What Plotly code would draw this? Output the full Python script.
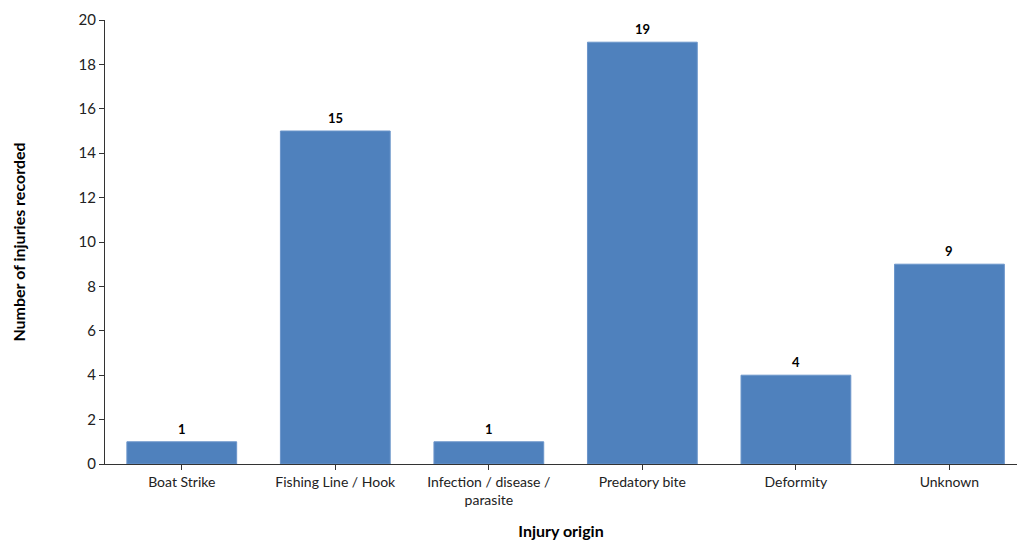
import plotly.graph_objects as go

categories = ["Boat Strike", "Fishing Line / Hook", "Infection / disease /<br>parasite",
              "Predatory bite", "Deformity", "Unknown"]
injuries = [1, 15, 1, 19, 4, 9]
y_ticks = [0, 2, 4, 6, 8, 10, 12, 14, 16, 18, 20]

positions = list(range(len(categories)))

fig = go.Figure(
    go.Bar(
        x=positions,
        y=injuries,
        width=0.715,
        marker=dict(color="#4F81BD", line=dict(color="#6B95CA", width=1)),
        hoverinfo="x+y",
    )
)

# value labels above each bar
for xpos, val in zip(positions, injuries):
    fig.add_annotation(
        x=xpos, y=val, text=f"<b>{val}</b>", showarrow=False,
        yanchor="bottom", yshift=3,
        font=dict(family="Lato", size=13, color="#000000"),
    )

fig.update_layout(
    width=1017,
    height=542,
    margin=dict(l=105, r=0, t=20, b=78),
    plot_bgcolor="white",
    paper_bgcolor="white",
    showlegend=False,
    font=dict(family="Lato", size=14, color="#222222"),
    xaxis=dict(
        range=[-0.5, 5.44],
        tickmode="array",
        tickvals=positions,
        ticktext=categories,
        showline=True,
        linecolor="#333333",
        linewidth=1,
        ticks="outside",
        tickson="boundaries",
        ticklen=5,
        tickcolor="#333333",
        showgrid=False,
        zeroline=False,
        tickfont=dict(family="Lato", size=14, color="#222222"),
        title=dict(text="<b>Injury origin</b>", font=dict(family="Lato", size=16, color="#000000"), standoff=18),
    ),
    yaxis=dict(
        range=[0, 20],
        tickvals=y_ticks,
        showline=True,
        linecolor="#333333",
        linewidth=1,
        ticks="outside",
        ticklen=5,
        tickcolor="#333333",
        showgrid=False,
        zeroline=False,
        tickfont=dict(family="Lato", size=15, color="#222222"),
        title=dict(text="<b>Number of injuries recorded</b>", font=dict(family="Lato", size=16, color="#000000"), standoff=48),
    ),
)

fig.write_html("out.html")
